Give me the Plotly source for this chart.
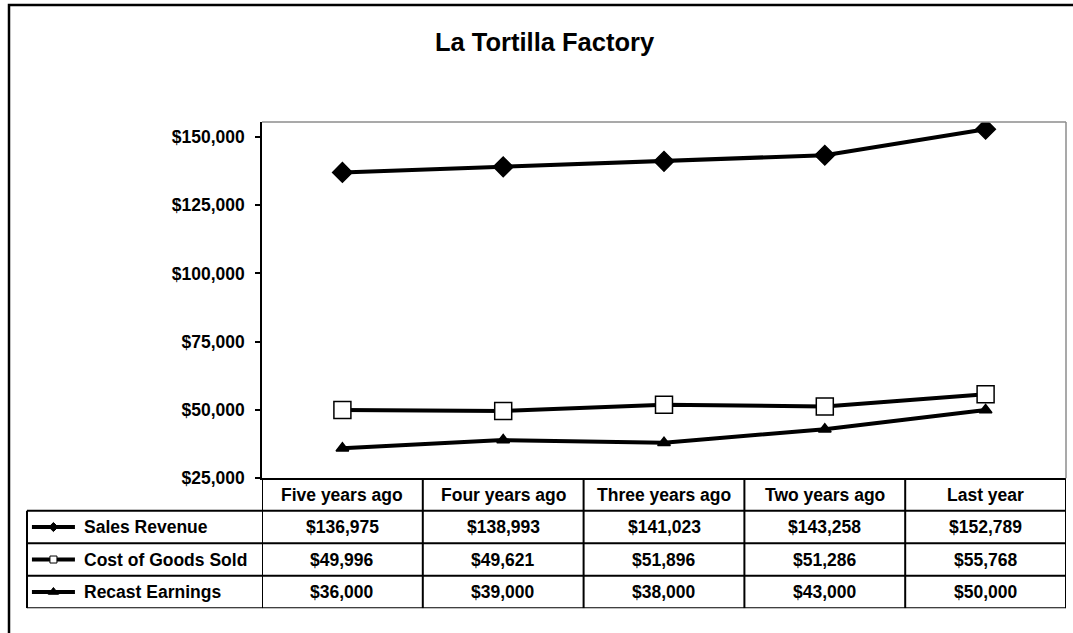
import plotly.graph_objects as go

# ---- data ----
title = "La Tortilla Factory"
periods = ["Five years ago", "Four years ago", "Three years ago", "Two years ago", "Last year"]
sales_revenue = [136975, 138993, 141023, 143258, 152789]
cost_of_goods_sold = [49996, 49621, 51896, 51286, 55768]
recast_earnings = [36000, 39000, 38000, 43000, 50000]
series_names = ["Sales Revenue", "Cost of Goods Sold", "Recast Earnings"]
y_tick_values = [25000, 50000, 75000, 100000, 125000, 150000]
y_tick_labels = ["${:,}".format(v) for v in y_tick_values]

series_values = [sales_revenue, cost_of_goods_sold, recast_earnings]

# ---- styling ----
W, H = 1073, 633
FONT = "Liberation Sans, Arial, sans-serif"
styles = [
    dict(symbol="diamond", size=15, fill="black", key_size=7),
    dict(symbol="square", size=17, fill="white", key_size=7),
    dict(symbol="triangle-up", size=11, fill="black", key_size=9),
]


def fx(px):
    return px / W


def fy(px):
    return 1 - px / H


fig = go.Figure()

# main series
for name, vals, st in zip(series_names, series_values, styles):
    fig.add_trace(go.Scatter(
        x=periods, y=vals, name=name, mode="lines+markers",
        line=dict(color="black", width=4),
        marker=dict(symbol=st["symbol"], size=st["size"], color=st["fill"],
                    line=dict(color="black", width=1.5)),
        xaxis="x", yaxis="y", showlegend=False, hoverinfo="x+y+name",
    ))

# legend keys inside the data table row headers
for i, st in enumerate(styles):
    row = i + 1
    fig.add_trace(go.Scatter(
        x=[0.021, 0.204], y=[row, row], mode="lines",
        line=dict(color="black", width=4),
        xaxis="x2", yaxis="y2", showlegend=False, hoverinfo="skip",
    ))
    fig.add_trace(go.Scatter(
        x=[0.1125], y=[row], mode="markers",
        marker=dict(symbol=st["symbol"], size=st["key_size"], color=st["fill"],
                    line=dict(color="black", width=1)),
        xaxis="x2", yaxis="y2", showlegend=False, hoverinfo="skip",
    ))

cell_font = dict(family=FONT, size=17.5, color="black", weight="bold")
annotations = []

# title
annotations.append(dict(
    text=title, xref="paper", yref="paper", x=fx(545), y=fy(43),
    xanchor="center", yanchor="middle", showarrow=False,
    font=dict(family=FONT, size=25.5, color="black", weight="bold"),
))

# table header row (categories)
for p in periods:
    annotations.append(dict(
        text=p, xref="x", yref="y2", x=p, y=0, xanchor="center", yanchor="middle",
        showarrow=False, font=cell_font,
    ))

# table body
for i, (name, vals) in enumerate(zip(series_names, series_values)):
    row = i + 1
    annotations.append(dict(
        text=name, xref="x2", yref="y2", x=0.234, y=row, xanchor="left", yanchor="middle",
        showarrow=False, font=cell_font,
    ))
    for p, v in zip(periods, vals):
        annotations.append(dict(
            text="${:,}".format(v), xref="x", yref="y2", x=p, y=row,
            xanchor="center", yanchor="middle", showarrow=False, font=cell_font,
        ))

shapes = []
grid = dict(color="black", width=2)
# horizontal table rules
for yv in [0.5, 1.5, 2.5, 3.5]:
    shapes.append(dict(type="line", xref="paper", yref="y2",
                       x0=fx(27), x1=fx(1066), y0=yv, y1=yv, line=grid))
# vertical table rules between columns and at the right edge
for xv in [-0.5, 0.5, 1.5, 2.5, 3.5, 4.5]:
    shapes.append(dict(type="line", xref="x", yref="y2",
                       x0=xv, x1=xv, y0=-0.5, y1=3.5, line=grid))
# left edge of the row-header column
shapes.append(dict(type="line", xref="paper", yref="y2",
                   x0=fx(27), x1=fx(27), y0=0.5, y1=3.5, line=grid))
# plot area border (top and right)
shapes.append(dict(type="line", xref="x domain", yref="y domain",
                   x0=0, x1=1, y0=1, y1=1, line=dict(color="#8c8c8c", width=1.5)))
shapes.append(dict(type="line", xref="x domain", yref="y domain",
                   x0=1, x1=1, y0=0, y1=1, line=dict(color="#8c8c8c", width=1.5)))
# chart frame
shapes.append(dict(type="rect", xref="paper", yref="paper",
                   x0=fx(9), x1=1.05, y0=-0.05, y1=fy(5),
                   line=dict(color="black", width=2.5)))

fig.update_layout(
    width=W, height=H,
    margin=dict(l=0, r=0, t=0, b=0),
    paper_bgcolor="white", plot_bgcolor="white",
    showlegend=False,
    xaxis=dict(
        domain=[fx(262), fx(1066)], type="category", range=[-0.5, 4.5],
        showticklabels=False, ticks="", showgrid=False, zeroline=False,
        showline=True, linecolor="black", linewidth=2, anchor="y",
    ),
    yaxis=dict(
        domain=[fy(486), fy(124)], range=[25000, 155400],
        tickmode="array", tickvals=y_tick_values, ticktext=y_tick_labels,
        ticks="outside", ticklen=5, tickwidth=1.5, tickcolor="black",
        ticklabelstandoff=7,
        tickfont=dict(family=FONT, size=17.5, color="black", weight="bold"),
        showgrid=False, zeroline=False,
        showline=True, linecolor="black", linewidth=1.5, anchor="x",
    ),
    xaxis2=dict(domain=[fx(27), fx(262)], range=[0, 1], visible=False, anchor="y2"),
    yaxis2=dict(domain=[fy(618), fy(486)], range=[3.5, -0.5], visible=False, anchor="x2"),
    annotations=annotations,
    shapes=shapes,
)

fig.write_html("out.html")
